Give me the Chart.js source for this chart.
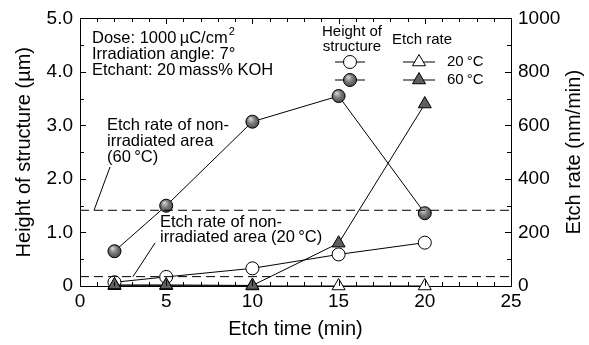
<!DOCTYPE html>
<html lang="en">
<head>
    <meta charset="UTF-8">
    <title>Height of structure and etch rate vs etch time</title>
    <script src="https://cdn.jsdelivr.net/npm/chart.js"></script>
    <style>
        html, body { margin: 0; padding: 0; background: #fff; }
        #wrap { width: 589px; height: 345px; }
    </style>
</head>
<body>
    <div id="wrap"><canvas id="etchChart"></canvas></div>

    <script>
        // data
        const etchTimes = [2, 5, 10, 15, 20];                 // min
        const height20C = [0.07, 0.17, 0.33, 0.59, 0.81];      // um
        const height60C = [0.65, 1.50, 3.07, 3.55, 1.36];      // um
        const rate20C = [1, 1, 0, 0, 0];                       // nm/min
        const rate60C = [4, 4, 2, 160, 680];                   // nm/min
        const nonIrradRate60C = 283;                           // nm/min, dashed line
        const nonIrradRate20C = 35;                            // nm/min, dashed line
        const xRange = [0, 25];
        const heightRange = [0, 5];
        const rateRange = [0, 1000];
        const timeTicks = [0, 5, 10, 15, 20, 25];
        const heightTicks = [0, 1, 2, 3, 4, 5];
        const rateTicks = [0, 200, 400, 600, 800, 1000];

        const FONT = "'Liberation Sans', Arial, Helvetica, sans-serif";
        const pts = (ys) => etchTimes.map((t, i) => ({ x: t, y: ys[i] }));
        const hline = (v) => xRange.map(x => ({ x: x, y: v }));

        function ballGradient(c, px, py) {
            const g = c.createRadialGradient(px - 2, py - 3, 0.5, px, py, 8);
            g.addColorStop(0, '#d0d0d0');
            g.addColorStop(0.45, '#7a7a7a');
            g.addColorStop(1, '#3c3c3c');
            return g;
        }

        // shaded gray ball for the filled markers
        function shaded(c) {
            const s = c.chart.scales;
            if (!c.parsed || !s || !s.x || !s.y) return '#6f6f6f';
            const px = s.x.getPixelForValue(c.parsed.x);
            const py = s.y.getPixelForValue(c.parsed.y);
            if (!isFinite(px) || !isFinite(py)) return '#6f6f6f';
            return ballGradient(c.chart.ctx, px, py);
        }

        // inward ticks, axis titles, annotations and the legend box
        const decorPlugin = {
            id: 'decor',
            afterDraw(chart) {
                const c = chart.ctx;
                const a = chart.chartArea;
                const sx = chart.scales.x, sy = chart.scales.y, sr = chart.scales.y2;
                const L = Math.round(a.left), R = Math.round(a.right);
                const T = Math.round(a.top), B = Math.round(a.bottom);
                c.save();
                c.setLineDash([]);
                c.strokeStyle = '#000';
                c.lineWidth = 1;
                c.beginPath();
                for (let v = 0; v <= 25; v++) {
                    const px = Math.round(sx.getPixelForValue(v)) + 0.5;
                    const len = v % 5 === 0 ? 6 : 4;
                    c.moveTo(px, B); c.lineTo(px, B - len);
                    c.moveTo(px, T); c.lineTo(px, T + len);
                }
                for (let k = 0; k <= 10; k++) {
                    const py = Math.round(sy.getPixelForValue(k * 0.5)) + 0.5;
                    const len = k % 2 === 0 ? 6 : 4;
                    c.moveTo(L, py); c.lineTo(L + len, py);
                }
                for (let v = 0; v <= 1000; v += 100) {
                    const py = Math.round(sr.getPixelForValue(v)) + 0.5;
                    const len = v % 200 === 0 ? 6 : 4;
                    c.moveTo(R, py); c.lineTo(R - len, py);
                }
                c.stroke();

                c.fillStyle = '#000';
                c.textBaseline = 'middle';

                // axis titles, both read bottom to top
                c.font = '20px ' + FONT;
                c.textAlign = 'center';
                const midY = (a.top + a.bottom) / 2;
                c.save();
                c.translate(24, midY);
                c.rotate(-Math.PI / 2);
                c.fillText('Height of structure (\u00b5m)', 0, 0);
                c.restore();
                c.save();
                c.translate(574, midY);
                c.rotate(-Math.PI / 2);
                c.fillText('Etch rate (nm/min)', 0, 0);
                c.restore();

                // annotation text
                c.textAlign = 'left';
                c.font = '16.5px ' + FONT;
                const dose = 'Dose: 1000\u2009\u00b5C/cm';
                c.fillText(dose, 92, 38);
                const w = c.measureText(dose).width;
                c.font = '11px ' + FONT;
                c.fillText('2', 92 + w + 1, 32);
                c.font = '16.5px ' + FONT;
                c.fillText('Irradiation angle: 7\u00b0', 92, 54);
                c.fillText('Etchant: 20\u2009mass% KOH', 92, 70);

                c.fillText('Etch rate of non-', 107, 125);
                c.fillText('irradiated area', 107, 141);
                c.fillText('(60\u2009\u00b0C)', 107, 157);
                c.fillText('Etch rate of non-', 160, 222);
                c.fillText('irradiated area (20\u2009\u00b0C)', 160, 237);

                // legend
                c.font = '15px ' + FONT;
                c.textAlign = 'center';
                c.fillText('Height of', 352, 32);
                c.fillText('structure', 352, 47);
                c.fillText('Etch rate', 422, 40);
                c.textAlign = 'left';
                c.fillText('20\u2009\u00b0C', 447, 62);
                c.fillText('60\u2009\u00b0C', 447, 80);
                const rows = [[62, false], [80, true]];
                rows.forEach(([ly, filled]) => {
                    c.beginPath();
                    c.moveTo(335, ly); c.lineTo(365, ly);
                    c.moveTo(403, ly); c.lineTo(435, ly);
                    c.stroke();
                    c.fillStyle = filled ? ballGradient(c, 350, ly) : '#fff';
                    c.beginPath();
                    c.arc(350, ly, 6.5, 0, Math.PI * 2);
                    c.fill(); c.stroke();
                    c.fillStyle = filled ? '#5f5f5f' : '#fff';
                    c.beginPath();
                    c.moveTo(419, ly - 7.5);
                    c.lineTo(419 + 6.5, ly + 3.75);
                    c.lineTo(419 - 6.5, ly + 3.75);
                    c.closePath();
                    c.fill(); c.stroke();
                });

                // callout lines from the labels to the dashed lines
                c.beginPath();
                c.moveTo(110, 167); c.lineTo(94, sr.getPixelForValue(nonIrradRate60C));
                c.stroke();
                c.beginPath();
                c.moveTo(155, 243); c.lineTo(133, sr.getPixelForValue(nonIrradRate20C));
                c.stroke();
                c.restore();
            }
        };

        const ctx = document.getElementById('etchChart').getContext('2d');
        new Chart(ctx, {
            type: 'scatter',
            data: {
                datasets: [
                    {
                        label: 'non-irradiated 60C', data: hline(nonIrradRate60C), yAxisID: 'y2',
                        showLine: true, borderColor: '#000', borderWidth: 1, borderDash: [9, 5],
                        pointRadius: 0
                    },
                    {
                        label: 'non-irradiated 20C', data: hline(nonIrradRate20C), yAxisID: 'y2',
                        showLine: true, borderColor: '#000', borderWidth: 1, borderDash: [9, 5],
                        pointRadius: 0
                    },
                    {
                        label: 'Etch rate 60C', data: pts(rate60C), yAxisID: 'y2',
                        showLine: true, borderColor: '#000', borderWidth: 1,
                        pointStyle: 'triangle', pointRadius: 7.5, backgroundColor: '#5f5f5f',
                        pointBorderColor: '#000', pointBorderWidth: 1
                    },
                    {
                        label: 'Etch rate 20C', data: pts(rate20C), yAxisID: 'y2',
                        showLine: true, borderColor: '#000', borderWidth: 1,
                        pointStyle: 'triangle', pointRadius: 7.5, backgroundColor: '#fff',
                        pointBorderColor: '#000', pointBorderWidth: 1
                    },
                    {
                        label: 'Height 60C', data: pts(height60C), yAxisID: 'y',
                        showLine: true, borderColor: '#000', borderWidth: 1,
                        pointStyle: 'circle', pointRadius: 6.5, backgroundColor: shaded,
                        pointBorderColor: '#000', pointBorderWidth: 1
                    },
                    {
                        label: 'Height 20C', data: pts(height20C), yAxisID: 'y',
                        showLine: true, borderColor: '#000', borderWidth: 1,
                        pointStyle: 'circle', pointRadius: 6.5, backgroundColor: '#fff',
                        pointBorderColor: '#000', pointBorderWidth: 1
                    }
                ]
            },
            options: {
                responsive: true,
                maintainAspectRatio: false,
                animation: false,
                clip: false,
                layout: { padding: { top: 17, right: 0, left: 0, bottom: 0 } },
                plugins: { legend: { display: false }, tooltip: { enabled: false } },
                scales: {
                    x: {
                        type: 'linear', min: xRange[0], max: xRange[1],
                        afterFit: (s) => { s.height = 59; },
                        afterBuildTicks: (s) => { s.ticks = timeTicks.map(v => ({ value: v })); },
                        grid: { display: false, drawTicks: false },
                        border: { display: true, color: '#000', width: 1 },
                        ticks: { color: '#000', padding: 4, maxRotation: 0, font: { family: FONT, size: 19 } },
                        title: { display: true, text: 'Etch time (min)', color: '#000', padding: { top: 6 },
                                 font: { family: FONT, size: 20 } }
                    },
                    x2: {
                        type: 'linear', position: 'top', min: xRange[0], max: xRange[1],
                        afterFit: (s) => { s.height = 0; },
                        grid: { display: false, drawTicks: false },
                        border: { display: true, color: '#000', width: 1 },
                        ticks: { display: false }
                    },
                    y: {
                        position: 'left', min: heightRange[0], max: heightRange[1],
                        afterFit: (s) => { s.width = 80; },
                        afterBuildTicks: (s) => { s.ticks = heightTicks.map(v => ({ value: v })); },
                        grid: { display: false, drawTicks: false },
                        border: { display: true, color: '#000', width: 1 },
                        ticks: { color: '#000', padding: 7, font: { family: FONT, size: 19 },
                                 callback: (v) => v === 0 ? '0' : v.toFixed(1) }
                    },
                    y2: {
                        position: 'right', min: rateRange[0], max: rateRange[1],
                        afterFit: (s) => { s.width = 78; },
                        afterBuildTicks: (s) => { s.ticks = rateTicks.map(v => ({ value: v })); },
                        grid: { display: false, drawTicks: false },
                        border: { display: true, color: '#000', width: 1 },
                        ticks: { color: '#000', padding: 7, font: { family: FONT, size: 19 },
                                 callback: (v) => String(v) }
                    }
                }
            },
            plugins: [decorPlugin]
        });
    </script>
</body>
</html>
